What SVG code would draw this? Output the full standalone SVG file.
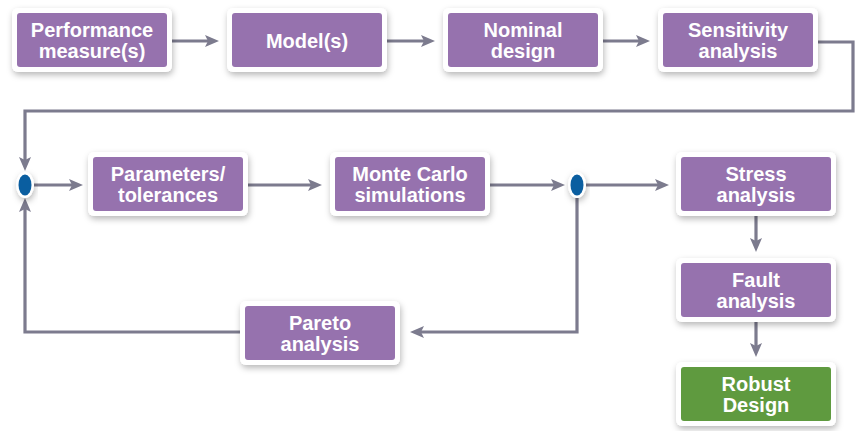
<svg xmlns="http://www.w3.org/2000/svg" width="858" height="431" viewBox="0 0 858 431">
<style>
.frame{fill:#ffffff}
.box{fill:#9672ae}
.green{fill:#5f9a3f}
.t{font-family:"Liberation Sans",Arial,Helvetica,sans-serif;font-weight:bold;font-size:20px;fill:#ffffff;text-anchor:middle}
.c{fill:none;stroke:#7c7b8e;stroke-width:3.2;marker-end:url(#ah)}
.cn{fill:none;stroke:#7c7b8e;stroke-width:3.2}
</style>
<defs>
<filter id="sh" x="-20%" y="-20%" width="140%" height="160%">
<feDropShadow dx="1" dy="3" stdDeviation="3" flood-color="#000" flood-opacity="0.28"/>
</filter>
<marker id="ah" markerUnits="userSpaceOnUse" markerWidth="16" markerHeight="14" viewBox="0 0 16 14" refX="8" refY="6" orient="auto">
<path d="M0,0 L14,6 L0,12 L3,6 z" fill="#7c7b8e"/>
</marker>
</defs>
<rect width="858" height="431" fill="#ffffff"/>
<g id="connectors">
<path class="c" d="M172,41 H213"/>
<path class="c" d="M387,41 H429"/>
<path class="c" d="M603,41 H644"/>
<path class="c" d="M818,42 H853 V111 H25 V165"/>
<path class="c" d="M240,332 H25 V204"/>
<path class="c" d="M34,185 H77"/>
<path class="c" d="M248,185 H316"/>
<path class="c" d="M490,185 H559"/>
<path class="c" d="M586,185 H663"/>
<path class="c" d="M577,198 V332 H416"/>
<path class="c" d="M756,216 V246"/>
<path class="c" d="M756,322 V351"/>
</g>
<g id="junction1">
<ellipse cx="25" cy="185" rx="9" ry="13" fill="#ffffff" filter="url(#sh)"/>
<ellipse cx="25" cy="185" rx="6.5" ry="10.5" fill="#0a5ea0"/>
</g>
<g id="junction2">
<ellipse cx="577" cy="185" rx="9" ry="13" fill="#ffffff" filter="url(#sh)"/>
<ellipse cx="577" cy="185" rx="6.5" ry="10.5" fill="#0a5ea0"/>
</g>
<g id="performance">
<rect class="frame" x="12" y="8" width="160" height="64" rx="6" filter="url(#sh)"/>
<rect class="box" x="17" y="13" width="150" height="54" rx="3"/>
<text class="t" x="92" y="37">Performance</text>
<text class="t" x="92" y="58">measure(s)</text>
</g>
<g id="models">
<rect class="frame" x="227" y="8" width="160" height="64" rx="6" filter="url(#sh)"/>
<rect class="box" x="232" y="13" width="150" height="54" rx="3"/>
<text class="t" x="307" y="48">Model(s)</text>
</g>
<g id="nominal">
<rect class="frame" x="443" y="8" width="160" height="64" rx="6" filter="url(#sh)"/>
<rect class="box" x="448" y="13" width="150" height="54" rx="3"/>
<text class="t" x="523" y="37">Nominal</text>
<text class="t" x="523" y="58">design</text>
</g>
<g id="sensitivity">
<rect class="frame" x="658" y="8" width="160" height="64" rx="6" filter="url(#sh)"/>
<rect class="box" x="663" y="13" width="150" height="54" rx="3"/>
<text class="t" x="738" y="37">Sensitivity</text>
<text class="t" x="738" y="58">analysis</text>
</g>
<g id="parameters">
<rect class="frame" x="88" y="152" width="160" height="64" rx="6" filter="url(#sh)"/>
<rect class="box" x="93" y="157" width="150" height="54" rx="3"/>
<text class="t" x="168" y="181">Parameters/</text>
<text class="t" x="168" y="202">tolerances</text>
</g>
<g id="montecarlo">
<rect class="frame" x="330" y="152" width="160" height="64" rx="6" filter="url(#sh)"/>
<rect class="box" x="335" y="157" width="150" height="54" rx="3"/>
<text class="t" x="410" y="181">Monte Carlo</text>
<text class="t" x="410" y="202">simulations</text>
</g>
<g id="stress">
<rect class="frame" x="676" y="152" width="160" height="64" rx="6" filter="url(#sh)"/>
<rect class="box" x="681" y="157" width="150" height="54" rx="3"/>
<text class="t" x="756" y="181">Stress</text>
<text class="t" x="756" y="202">analysis</text>
</g>
<g id="fault">
<rect class="frame" x="676" y="258" width="160" height="64" rx="6" filter="url(#sh)"/>
<rect class="box" x="681" y="263" width="150" height="54" rx="3"/>
<text class="t" x="756" y="287">Fault</text>
<text class="t" x="756" y="308">analysis</text>
</g>
<g id="pareto">
<rect class="frame" x="240" y="301" width="160" height="64" rx="6" filter="url(#sh)"/>
<rect class="box" x="245" y="306" width="150" height="54" rx="3"/>
<text class="t" x="320" y="330">Pareto</text>
<text class="t" x="320" y="351">analysis</text>
</g>
<g id="robust">
<rect class="frame" x="676" y="362" width="160" height="64" rx="6" filter="url(#sh)"/>
<rect class="box green" x="681" y="367" width="150" height="54" rx="3"/>
<text class="t" x="756" y="391">Robust</text>
<text class="t" x="756" y="412">Design</text>
</g>
</svg>
